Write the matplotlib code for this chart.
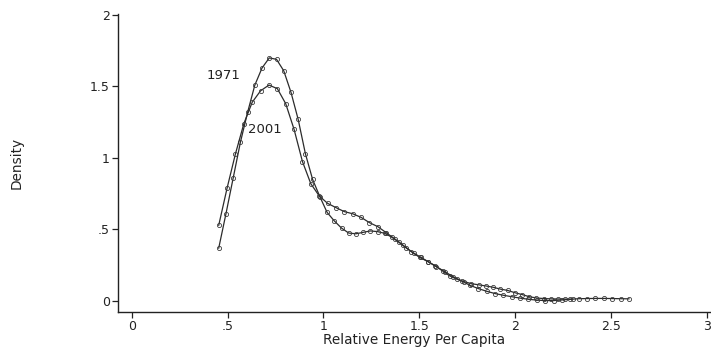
import numpy as np
import matplotlib
matplotlib.use("Agg")
import matplotlib.pyplot as plt

plt.rcParams['font.family'] = ['DejaVu Sans']

# Kernel density estimates of relative energy use per capita (50 evaluation points each)
x_1971 = np.linspace(0.454, 2.300, 50)
y_1971 = [0.37, 0.61, 0.86, 1.11, 1.32, 1.51, 1.63, 1.70, 1.69, 1.61,
          1.46, 1.27, 1.03, 0.85, 0.73, 0.62, 0.56, 0.51, 0.475, 0.47,
          0.48, 0.49, 0.485, 0.473, 0.445, 0.41, 0.37, 0.335, 0.305, 0.275,
          0.245, 0.21, 0.175, 0.152, 0.135, 0.121, 0.113, 0.105, 0.096, 0.083,
          0.074, 0.058, 0.045, 0.030, 0.021, 0.017, 0.015, 0.014, 0.013, 0.012]

x_2001 = np.linspace(0.454, 2.594, 50)
y_2001 = [0.53, 0.79, 1.03, 1.24, 1.39, 1.47, 1.51, 1.485, 1.38, 1.20,
          0.975, 0.82, 0.735, 0.683, 0.653, 0.625, 0.61, 0.585, 0.548, 0.52,
          0.478, 0.435, 0.39, 0.345, 0.305, 0.275, 0.24, 0.205, 0.17, 0.14,
          0.11, 0.087, 0.068, 0.052, 0.040, 0.030, 0.020, 0.012, 0.006, 0.003,
          0.003, 0.007, 0.012, 0.016, 0.017, 0.018, 0.018, 0.017, 0.016, 0.015]

x_ticks = [0, 0.5, 1, 1.5, 2, 2.5, 3]
x_tick_labels = ["0", ".5", "1", "1.5", "2", "2.5", "3"]
y_ticks = [0, 0.5, 1, 1.5, 2]
y_tick_labels = ["0", ".5", "1", "1.5", "2"]

W, H = 711, 350
fig = plt.figure(figsize=(W / 100, H / 100), dpi=100)
ax = fig.add_axes([118 / W, (H - 312) / H, (W - 118) / W, (312 - 14) / H])

line_color = "#2b2b2b"
style = dict(color=line_color, linewidth=0.9, marker="o", markersize=3.0,
             markerfacecolor="none", markeredgecolor="#3a3a3a", markeredgewidth=0.6)
ax.plot(x_1971, y_1971, **style)
ax.plot(x_2001, y_2001, **style)

ax.text(0.388, 1.58, "1971", fontsize=9.5, color="#222222", ha="left", va="center")
ax.text(0.607, 1.20, "2001", fontsize=9.5, color="#222222", ha="left", va="center")

ax.set_xlim(-0.0715, 3.022)
ax.set_ylim(-0.077, 2.007)
ax.set_xticks(x_ticks)
ax.set_xticklabels(x_tick_labels)
ax.set_yticks(y_ticks)
ax.set_yticklabels(y_tick_labels)

for side in ("top", "right"):
    ax.spines[side].set_visible(False)
for side in ("left", "bottom"):
    ax.spines[side].set_linewidth(1.0)
    ax.spines[side].set_color("#222222")

ax.tick_params(axis="both", direction="out", length=4, width=0.9,
               colors="#222222", labelsize=9, pad=2)

ax.set_xlabel("Relative Energy Per Capita", fontsize=9.8, color="#222222", labelpad=0)
ax.set_ylabel("Density", fontsize=9.8, color="#222222")
ax.yaxis.set_label_coords(-(118 - 24) / (W - 118), 0.5)

fig.savefig("out.png", dpi=100, facecolor="white")
